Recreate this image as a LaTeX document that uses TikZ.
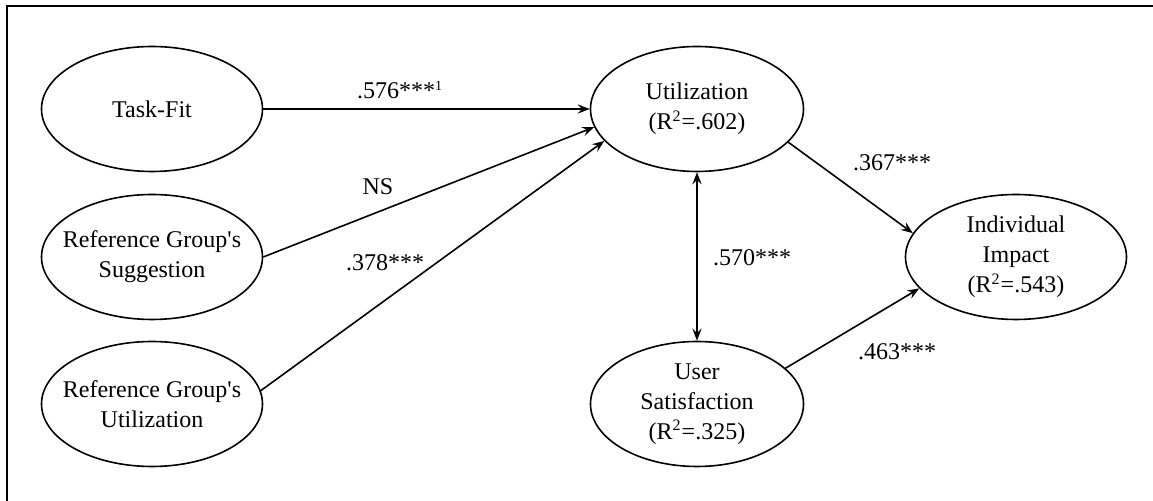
\documentclass[tikz,border=0pt]{standalone}
\usepackage{fontspec}
\setmainfont{Liberation Serif}
\usetikzlibrary{arrows.meta,shapes.geometric}

\begin{document}
\begin{tikzpicture}[x=0.5pt,y=-0.5pt,line width=0.8pt,>={Stealth[length=6pt,width=4.6pt,inset=2.2pt]},
  latent/.style={draw,ellipse,inner xsep=-20pt,inner ysep=-12pt,minimum width=110.5pt,minimum height=62.5pt,
    align=center,font=\fontsize{12}{15}\selectfont},
  coef/.style={font=\fontsize{12}{15}\selectfont,inner sep=0pt}]
  \useasboundingbox (0,0) rectangle (1153,501);
  \draw[line width=1.1pt] (7,501) -- (7,6) -- (1153,6);

  \node[latent] (task) at (152,109) {Task-Fit};
  \node[latent] (sugg) at (152,257) {Reference Group\textquotesingle s\\Suggestion};
  \node[latent] (refu) at (152,404) {Reference Group\textquotesingle s\\Utilization};
  \node[latent,minimum width=106.5pt] (util) at (697,109) {Utilization\\(R\textsuperscript{2}=.602)};
  \node[latent,minimum width=106.5pt] (sat) at (697,404) {User\\Satisfaction\\(R\textsuperscript{2}=.325)};
  \node[latent] (impact) at (1016,257) {Individual\\Impact\\(R\textsuperscript{2}=.543)};

  \draw[->] (task) -- (util);
  \draw[->] (sugg.east) -- (util.190);
  \draw[->] (refu.7) -- (util.199);
  \draw[<->] (util) -- (sat);
  \draw[->] (util.-20) -- (impact.167);
  \draw[->] (sat.22) -- (impact.198);

  \node[coef] (c1) at (400,90) {.576***\textsuperscript{\scriptsize 1}};
  \node[coef] (c2) at (378,187) {NS};
  \node[coef] (c3) at (385,263) {.378***};
  \node[coef] (c4) at (752,258) {.570***};
  \node[coef] (c5) at (892,163) {.367***};
  \node[coef] (c6) at (897,352) {.463***};
\end{tikzpicture}
\end{document}
